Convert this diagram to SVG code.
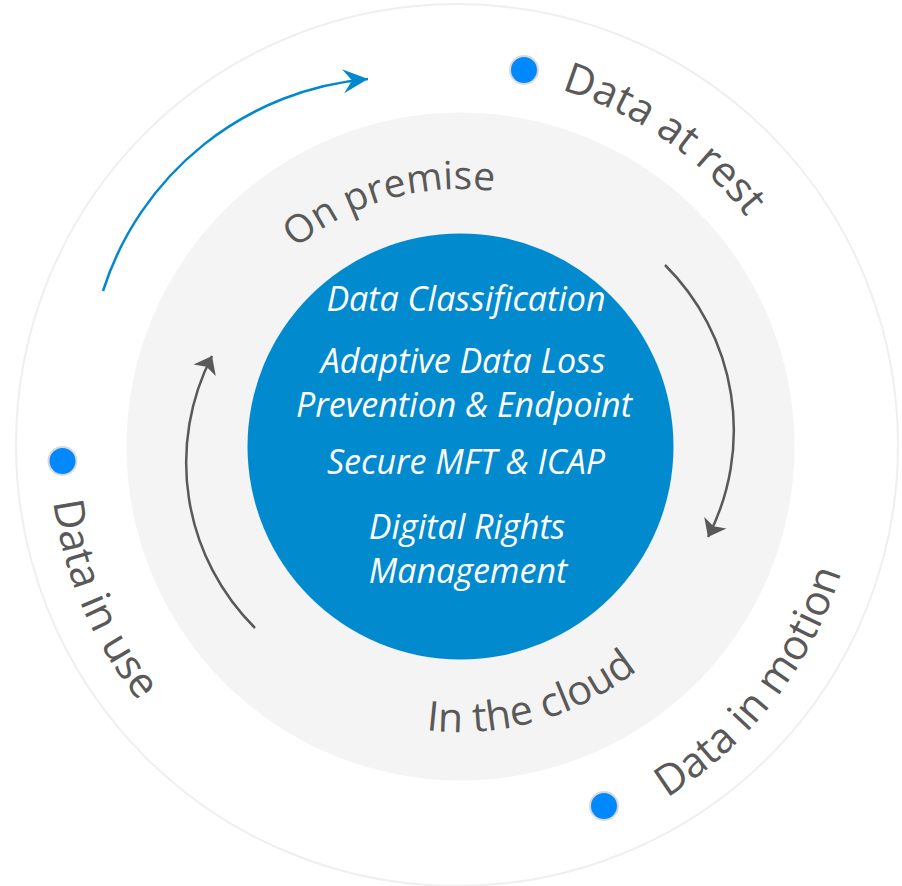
<svg xmlns="http://www.w3.org/2000/svg" xmlns:xlink="http://www.w3.org/1999/xlink" width="902" height="886" viewBox="0 0 902 886">
  <style>
    .lbl { font-family: "Open Sans", "Noto Sans", "Liberation Sans", sans-serif; font-size: 40px; fill: #595959; }
    .big { font-size: 42px; }
    .core { font-family: "Open Sans", "Noto Sans", "Liberation Sans", sans-serif; font-style: italic; font-size: 34px; fill: #ffffff; text-anchor: middle; }
    .dot { fill: #0088ff; stroke: #d9d9d9; stroke-width: 2; }
    .garc { fill: none; stroke: #595959; stroke-width: 2.5; }
    .barc { fill: none; stroke: #0288cc; stroke-width: 2.5; }
  </style>
  <defs>
    <marker id="headBlue" viewBox="-27 -14 29 28" markerWidth="29" markerHeight="28" refX="0" refY="0" orient="auto" markerUnits="userSpaceOnUse">
      <path d="M0,0 L-25,-12 L-16,0 L-25,12 Z" fill="#0288cc"/>
    </marker>
    <marker id="headGray" viewBox="-18 -14 20 28" markerWidth="20" markerHeight="28" refX="0" refY="0" orient="auto" markerUnits="userSpaceOnUse">
      <path d="M0,0 L-16,-12.5 L-12,0 L-16,12.5 Z" fill="#595959"/>
    </marker>
    <path id="pRest" d="M450,73 A377,377 0 0 1 450,827"/>
    <path id="pPrem" d="M203,446 A257,257 0 0 1 717,446"/>
    <path id="pUse" d="M450,50 A400,400 0 0 0 450,850"/>
    <path id="pCloud" d="M174,446 A286,286 0 0 0 746,446"/>
    <path id="pMotion" d="M40,450 A410,410 0 0 0 860,450"/>
  </defs>

  <g id="outer-ring">
    <circle cx="457" cy="445" r="441" fill="#ffffff" stroke="#efefef" stroke-width="2"/>
  </g>
  <g id="middle-ring">
    <circle cx="460.5" cy="446.5" r="334" fill="#f4f4f4"/>
  </g>

  <g id="core">
    <circle cx="460.5" cy="446.5" r="213" fill="#028acf"/>
    <text class="core" x="466" y="311">Data Classification</text>
    <text class="core" x="463" y="373">Adaptive Data Loss</text>
    <text class="core" x="464" y="417">Prevention &amp; Endpoint</text>
    <text class="core" x="466" y="474">Secure MFT &amp; ICAP</text>
    <text class="core" x="467" y="539">Digital Rights</text>
    <text class="core" x="468" y="583">Management</text>
  </g>

  <g id="on-premise">
    <text class="lbl" style="font-size:39px"><textPath xlink:href="#pPrem" href="#pPrem" startOffset="225">On premise</textPath></text>
  </g>
  <g id="in-the-cloud">
    <text class="lbl" style="font-size:41px"><textPath xlink:href="#pCloud" href="#pCloud" startOffset="415">In the cloud</textPath></text>
  </g>

  <g id="data-at-rest">
    <circle class="dot" cx="524" cy="70" r="14"/>
    <text class="lbl big"><textPath xlink:href="#pRest" href="#pRest" startOffset="113">Data at rest</textPath></text>
  </g>
  <g id="data-in-use">
    <circle class="dot" cx="62.5" cy="461" r="14"/>
    <text class="lbl big"><textPath xlink:href="#pUse" href="#pUse" startOffset="680">Data in use</textPath></text>
  </g>
  <g id="data-in-motion">
    <circle class="dot" cx="604" cy="806" r="14"/>
    <text class="lbl big"><textPath xlink:href="#pMotion" href="#pMotion" startOffset="872">Data in motion</textPath></text>
  </g>

  <g id="connectors">
    <path class="barc" d="M103,291 A306,306 0 0 1 368,79" marker-end="url(#headBlue)"/>
    <path class="garc" d="M665,265 A233,233 0 0 1 708,537" marker-end="url(#headGray)"/>
    <path class="garc" d="M255,628 A233,233 0 0 1 212,356" marker-end="url(#headGray)"/>
  </g>
</svg>
